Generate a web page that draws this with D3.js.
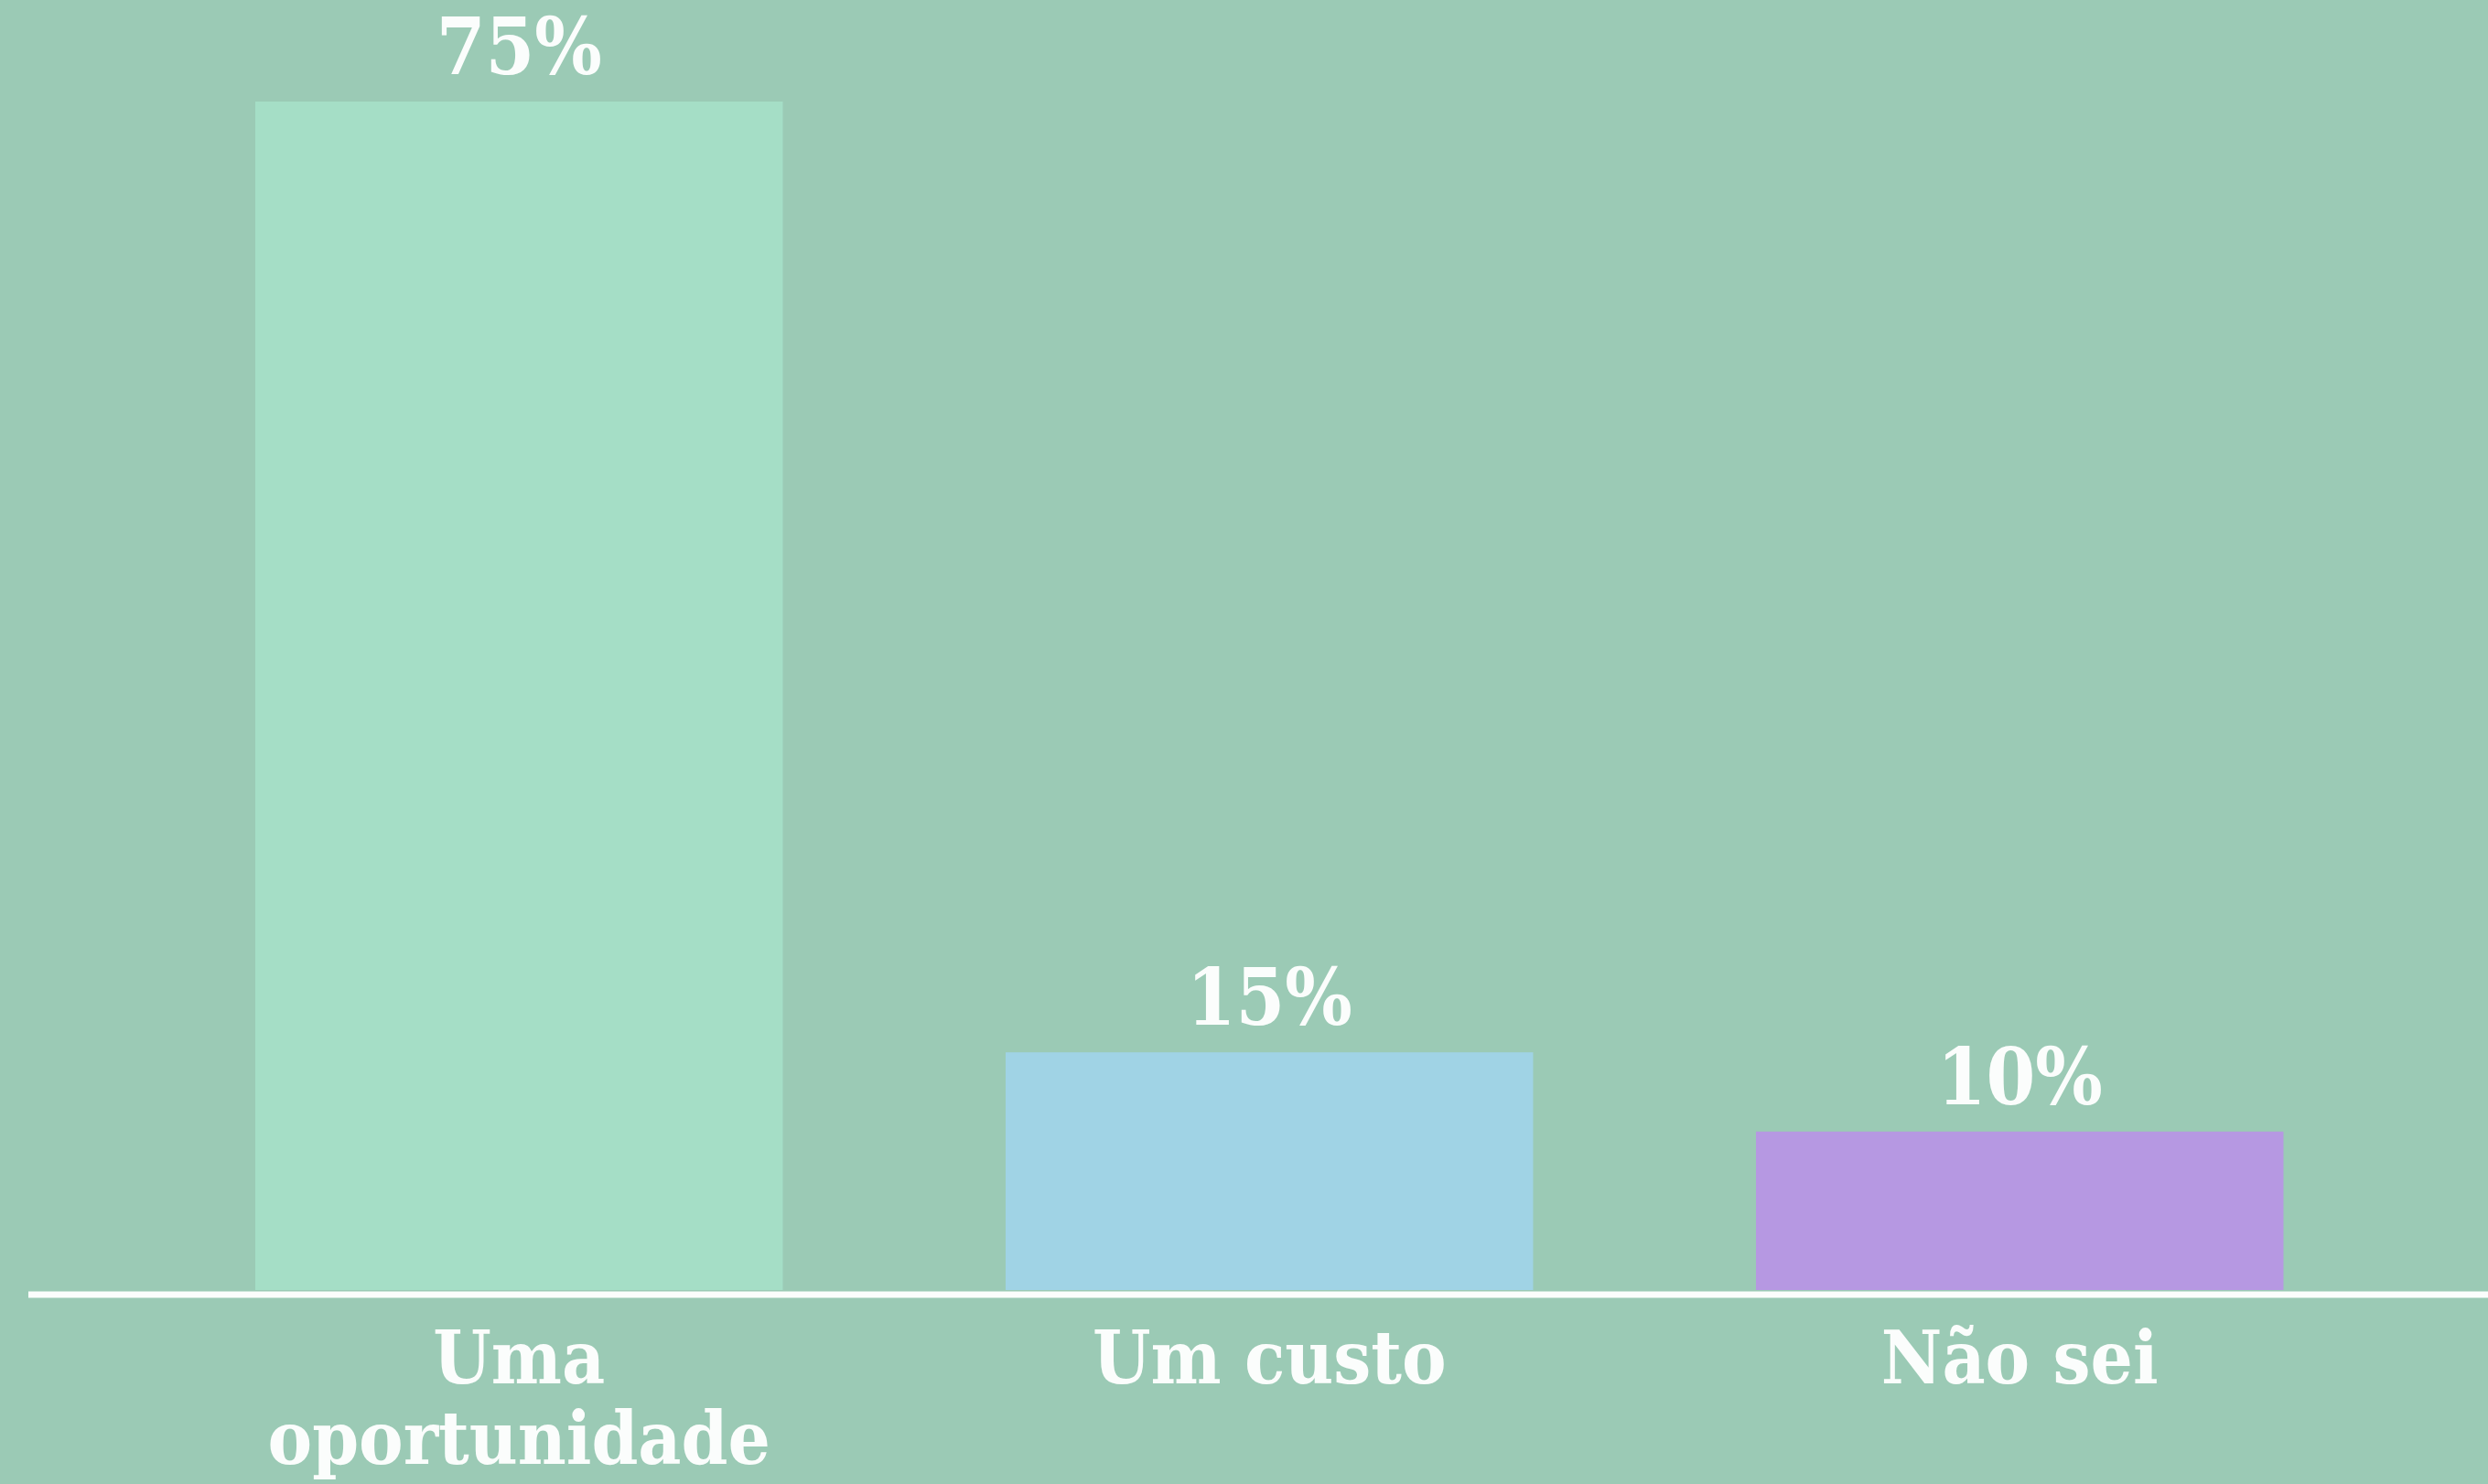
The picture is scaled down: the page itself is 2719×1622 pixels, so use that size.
<!DOCTYPE html>
<html>
<head>
<meta charset="utf-8">
<script src="https://cdn.jsdelivr.net/npm/d3@7"></script>
<style>
  html, body { margin: 0; padding: 0; background: #9bcab5; }
  svg { display: block; }
  .valueLabel, .catLabel { fill: #fbfdfc; font-family: "DejaVu Serif Condensed", "DejaVu Serif", serif; font-weight: bold; }
</style>
</head>
<body>
<script>
// data
const categories = ["Uma oportunidade", "Um custo", "Não sei"];
const values = [75, 15, 10];
const valueLabels = ["75%", "15%", "10%"];
const barColors = ["#a5dec6", "#a0d3e5", "#b698e2"];

const width = 2719, height = 1622;

const svg = d3.select("body")
    .append("svg")
    .attr("width", width)
    .attr("height", height);

svg.append("rect")
    .attr("width", width)
    .attr("height", height)
    .attr("fill", "#9bcab5");

// x scale: bands of 820px, bars ~576 wide
const step = 820, padIn = 0.297;
let x = d3.scaleBand()
    .domain(categories)
    .range([279 - padIn / 2 * step, 279 - padIn / 2 * step + 3 * step])
    .paddingInner(padIn)
    .paddingOuter(padIn / 2);

let y = d3.scaleLinear()
    .domain([0, 75])
    .range([1410, 111]);

// bars
svg.selectAll(".bar")
    .data(categories)
    .enter()
    .append("rect")
    .attr("class", "bar")
    .attr("x", d => x(d))
    .attr("y", (d, i) => y(values[i]))
    .attr("width", x.bandwidth())
    .attr("height", (d, i) => y(0) - y(values[i]))
    .attr("fill", (d, i) => barColors[i]);

// value labels
svg.selectAll(".valueLabel")
    .data(categories)
    .enter()
    .append("text")
    .attr("class", "valueLabel")
    .attr("x", d => x(d) + x.bandwidth() / 2)
    .attr("y", (d, i) => y(values[i]) - 30)
    .attr("text-anchor", "middle")
    .style("font-size", "86px")
    .text((d, i) => valueLabels[i]);

// bottom axis line
svg.append("line")
    .attr("x1", 31)
    .attr("x2", width)
    .attr("y1", y(0) + 5)
    .attr("y2", y(0) + 5)
    .attr("stroke", "#fbfdfc")
    .attr("stroke-width", 7);

// category labels (wrapped)
const wrapped = { "Uma oportunidade": ["Uma", "oportunidade"] };
const cat = svg.selectAll(".catLabel")
    .data(categories)
    .enter()
    .append("text")
    .attr("class", "catLabel")
    .attr("text-anchor", "middle")
    .style("font-size", "81px");

cat.each(function(d) {
    const lines = wrapped[d] || [d];
    d3.select(this).selectAll("tspan")
        .data(lines)
        .enter()
        .append("tspan")
        .attr("x", x(d) + x.bandwidth() / 2)
        .attr("y", (l, j) => 1512 + j * 88)
        .text(l => l);
});
</script>
</body>
</html>
